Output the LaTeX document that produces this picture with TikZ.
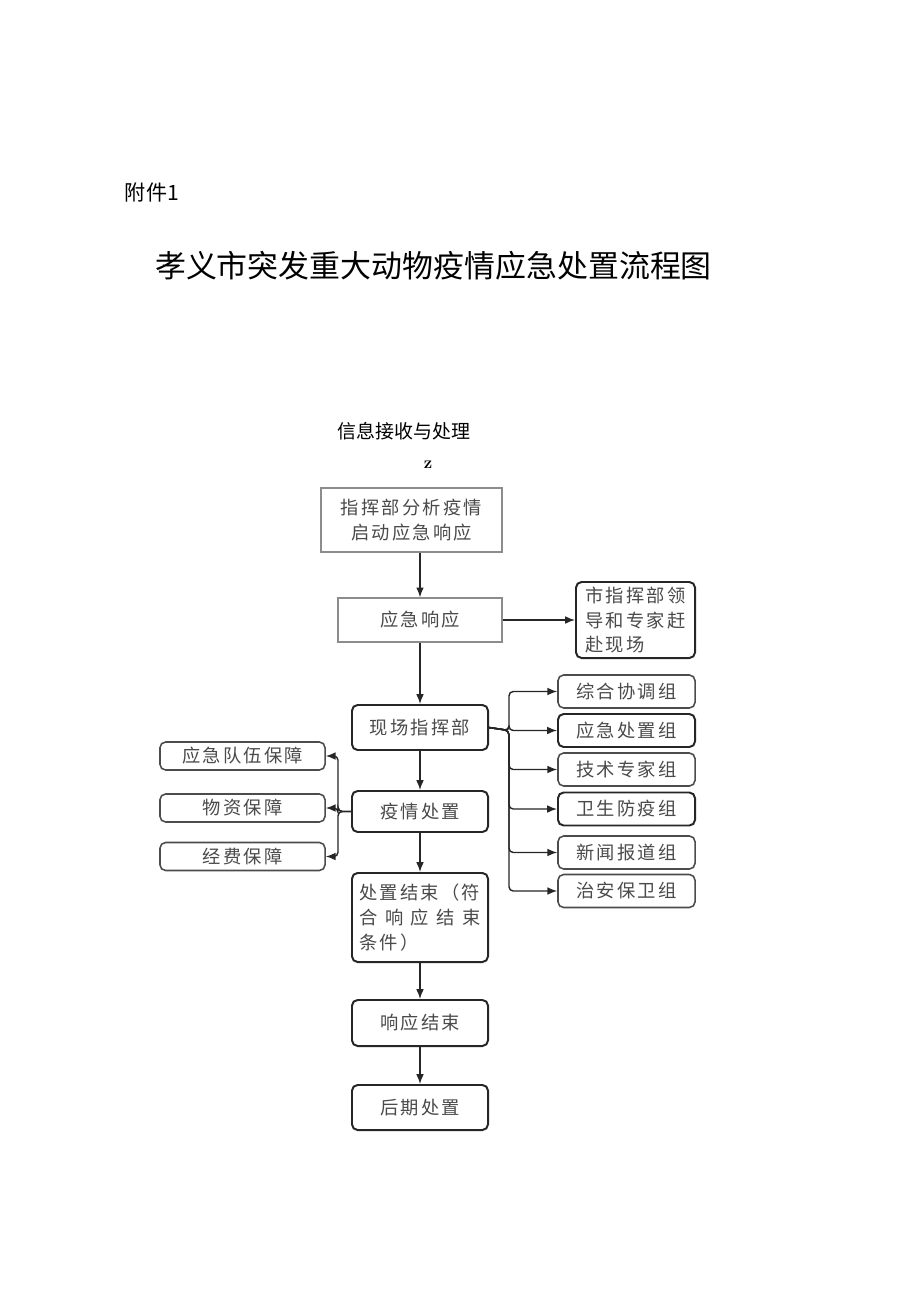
\documentclass[tikz,border=0pt]{standalone}
\usepackage{fontspec}
\newfontfamily\cjk{Noto Sans CJK SC}
\newfontfamily\cjkbox[LetterSpace=12]{Noto Sans CJK SC}
\usetikzlibrary{arrows.meta}
\definecolor{boxtext}{HTML}{4A4A4A}
\definecolor{lightline}{HTML}{8C8C8C}
\definecolor{darkline}{HTML}{262626}
\tikzset{
  plainbox/.style={draw=lightline, line width=0.9pt, text=boxtext, align=center,
    inner sep=2pt, font=\cjkbox\fontsize{13}{17.5}\selectfont},
  roundbox/.style={plainbox, draw=darkline, line width=1.4pt, rounded corners=4pt},
  grpbox/.style={roundbox, minimum width=3.425cm, minimum height=0.825cm},
  sidebox/.style={roundbox, line width=1.1pt, draw=black!70, minimum width=4.125cm, minimum height=0.7cm},
  arr/.style={-{Latex[length=7pt,width=5.5pt]}, line width=1pt, darkline},
  fork/.style={arr, rounded corners=3pt}
}
\begin{document}
\begin{tikzpicture}[x=0.025cm, y=-0.025cm]
  % page
  \fill[white] (0,0) rectangle (920,1301);

  % heading
  \node[anchor=west, font=\cjk\fontsize{15}{18}\selectfont] (fj) at (120,192) {附件1};
  \node[font=\cjk\fontsize{22}{26}\selectfont] (title) at (433.5,266) {孝义市突发重大动物疫情应急处置流程图};
  \node[font=\cjk\fontsize{13.5}{16}\selectfont] (xx) at (404,431) {信息接收与处理};
  \node[font=\bfseries\large] (zz) at (428,465) {z};

  % main column
  \node[plainbox, minimum width=4.525cm, minimum height=1.6cm] (fx) at (411.5,520) {指挥部分析疫情\\启动应急响应};
  \node[plainbox, minimum width=4.1cm, minimum height=1.1cm] (xy) at (420,620) {应急响应};
  \node[roundbox, minimum width=2.975cm, minimum height=1.9cm, align=left] (ld) at (635.5,620) {市指挥部领\\导和专家赶\\赴现场};
  \node[roundbox, minimum width=3.4cm, minimum height=1.125cm] (xc) at (420,727.5) {现场指挥部};
  \node[roundbox, minimum width=3.4cm, minimum height=1.025cm] (yq) at (420,811.5) {疫情处置};
  \node[roundbox, minimum width=3.4cm, minimum height=2.225cm, align=left] (js) at (420,917.5)
    {处置结束（符\\\makebox[86pt][s]{合\hfill 响\hfill 应\hfill 结\hfill 束}\\条件）};
  \node[roundbox, minimum width=3.4cm, minimum height=1.15cm] (xj) at (420,1023) {响应结束};
  \node[roundbox, minimum width=3.4cm, minimum height=1.125cm] (hq) at (420,1107.5) {后期处置};

  % groups of the field command
  \node[grpbox, draw=black!70, line width=1.1pt] (g1) at (626.5,691.5) {综合协调组};
  \node[grpbox] (g2) at (626.5,730.5) {应急处置组};
  \node[grpbox, draw=black!70, line width=1.1pt] (g3) at (626.5,769.5) {技术专家组};
  \node[grpbox] (g4) at (626.5,809) {卫生防疫组};
  \node[grpbox, draw=black!70, line width=1.1pt] (g5) at (626.5,852.5) {新闻报道组};
  \node[grpbox, draw=black!70, line width=1.1pt] (g6) at (626.5,891) {治安保卫组};

  % supports
  \node[sidebox] (s1) at (242.5,756) {应急队伍保障};
  \node[sidebox] (s2) at (242.5,808) {物资保障};
  \node[sidebox] (s3) at (242.5,856.5) {经费保障};

  % branch points
  \coordinate (br) at (509,730.5);
  \coordinate (bl) at (338,811.5);

  % main flow
  \draw[arr] (fx.south -| xy.north) -- (xy.north);
  \draw[arr] (xy.east) -- (ld.west);
  \draw[arr] (xy.south) -- (xc.north);
  \draw[arr] (xc.south) -- (yq.north);
  \draw[arr] (yq.south) -- (js.north);
  \draw[arr] (js.south) -- (xj.north);
  \draw[arr] (xj.south) -- (hq.north);

  % field command to groups
  \foreach \g in {g1,g2,g3,g4,g5,g6}
    \draw[fork] (xc.east) -- (br) |- (\g.west);

  % disposal to supports
  \foreach \s in {s1,s2,s3}
    \draw[fork] (yq.west) -- (bl) |- (\s.east);
\end{tikzpicture}
\end{document}
